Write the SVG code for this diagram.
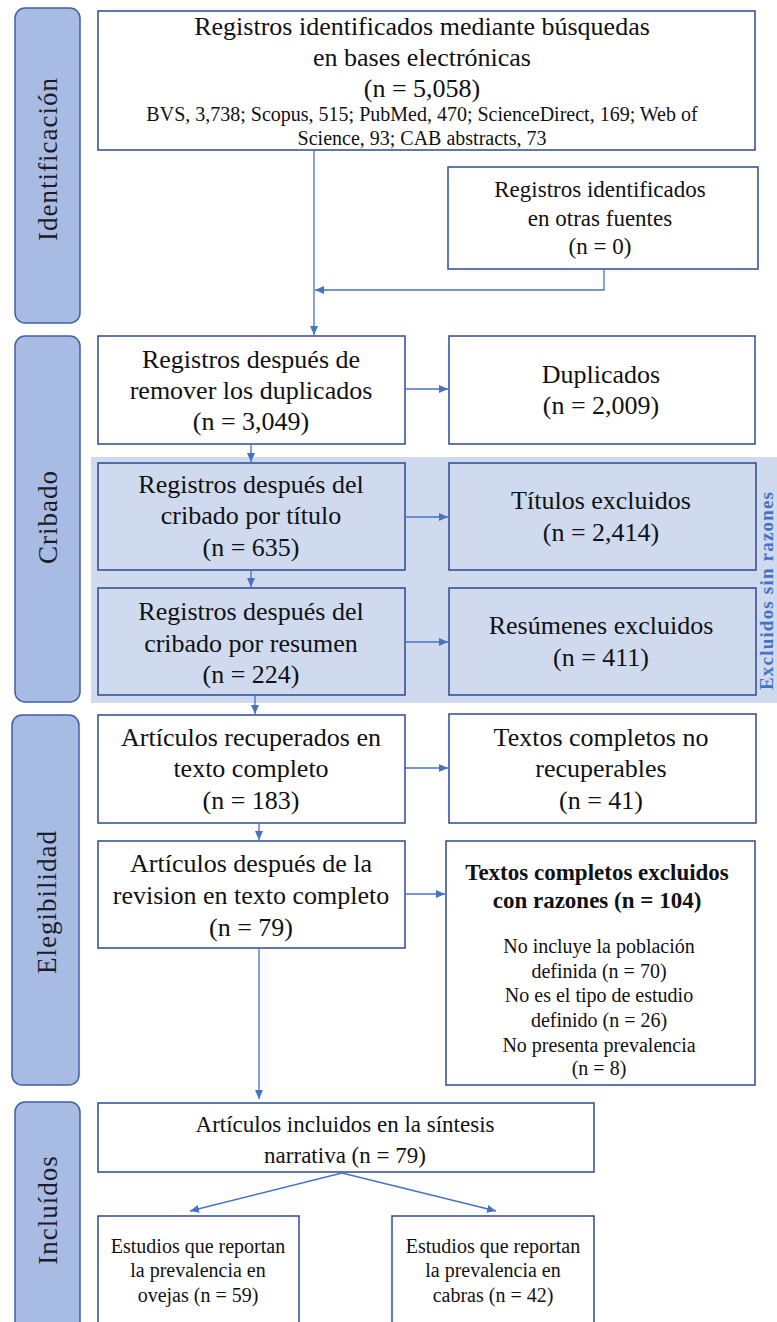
<svg xmlns="http://www.w3.org/2000/svg" width="777" height="1322" viewBox="0 0 777 1322">
<style>
.tab{fill:#a8bbe2;stroke:#3f5fa8;stroke-width:1.5}
.box{fill:#ffffff;stroke:#2e4a8e;stroke-width:1.5}
.sbox{fill:none;stroke:#2e4a8e;stroke-width:1.5}
.t{font-family:"Liberation Serif","Times New Roman",serif;fill:#111;text-anchor:middle}
.l26{font-size:26px}
.l23{font-size:23px}
.l20{font-size:20px}
.tab-t{font-family:"Liberation Serif","Times New Roman",serif;font-size:27px;fill:#1b1b2a;text-anchor:middle;letter-spacing:1px}
.c{fill:none;stroke:#4472c4;stroke-width:1.3}
</style>
<defs>
<marker id="ah" markerWidth="10" markerHeight="10" refX="9" refY="5" orient="auto" markerUnits="userSpaceOnUse">
<path d="M0,1 L9,5 L0,9 Z" fill="#4472c4"/>
</marker>
</defs>
<rect width="777" height="1322" fill="#ffffff"/>
<rect x="91" y="457" width="690" height="246" fill="#cfdaef"/>

<g id="tab-identificacion"><rect class="tab" x="15" y="8" width="65" height="315" rx="10"/><text class="tab-t" transform="translate(57,159) rotate(-90)">Identificación</text></g>
<g id="tab-cribado"><rect class="tab" x="15" y="336" width="65" height="366" rx="10"/><text class="tab-t" transform="translate(57,517) rotate(-90)">Cribado</text></g>
<g id="tab-elegibilidad"><rect class="tab" x="12" y="715" width="67" height="370" rx="10"/><text class="tab-t" transform="translate(56,902) rotate(-90)">Elegibilidad</text></g>
<g id="tab-incluidos"><rect class="tab" x="15" y="1102" width="65" height="240" rx="10"/><text class="tab-t" transform="translate(57,1210) rotate(-90)">Incluídos</text></g>

<g id="n-bases"><rect class="box" x="98" y="11" width="657" height="139"/>
<text class="t l26" x="422" y="35">Registros identificados mediante búsquedas</text>
<text class="t l26" x="422" y="66">en bases electrónicas</text>
<text class="t l26" x="422" y="97">(n = 5,058)</text>
<text class="t l20" x="422" y="121">BVS, 3,738; Scopus, 515; PubMed, 470; ScienceDirect, 169; Web of</text>
<text class="t l20" x="422" y="145">Science, 93; CAB abstracts, 73</text></g>

<g id="n-otras"><rect class="box" x="448" y="167" width="310" height="102"/>
<text class="t l23" x="600" y="197">Registros identificados</text>
<text class="t l23" x="600" y="226">en otras fuentes</text>
<text class="t l23" x="600" y="254">(n = 0)</text></g>

<g id="n-dup"><rect class="box" x="98" y="336" width="307" height="108"/>
<text class="t l26" x="251" y="368">Registros después de</text>
<text class="t l26" x="251" y="399">remover los duplicados</text>
<text class="t l26" x="251" y="430">(n = 3,049)</text></g>
<g id="n-duplicados"><rect class="box" x="449" y="336" width="306" height="108"/>
<text class="t l26" x="601" y="383">Duplicados</text>
<text class="t l26" x="601" y="414">(n = 2,009)</text></g>

<g id="n-titulo"><rect class="sbox" x="98" y="463" width="307" height="107"/>
<text class="t l26" x="251" y="493">Registros después del</text>
<text class="t l26" x="251" y="524">cribado por título</text>
<text class="t l26" x="251" y="556">(n = 635)</text></g>
<g id="n-titexc"><rect class="sbox" x="449" y="463" width="307" height="107"/>
<text class="t l26" x="601" y="509">Títulos excluidos</text>
<text class="t l26" x="601" y="541">(n = 2,414)</text></g>

<g id="n-resumen"><rect class="sbox" x="98" y="588" width="307" height="107"/>
<text class="t l26" x="251" y="620">Registros después del</text>
<text class="t l26" x="251" y="652">cribado por resumen</text>
<text class="t l26" x="251" y="683">(n = 224)</text></g>
<g id="n-resexc"><rect class="sbox" x="449" y="588" width="307" height="107"/>
<text class="t l26" x="601" y="634">Resúmenes excluidos</text>
<text class="t l26" x="601" y="666">(n = 411)</text></g>

<g id="lbl-sinrazones"><text transform="translate(773,591) rotate(-90)" style="font-family:'Liberation Serif','Times New Roman',serif;font-size:19px;font-weight:bold;fill:#4472c4;text-anchor:middle" textLength="198" lengthAdjust="spacing">Excluidos sin razones</text></g>

<g id="n-recuperados"><rect class="box" x="98" y="715" width="307" height="108"/>
<text class="t l26" x="251" y="746">Artículos recuperados en</text>
<text class="t l26" x="251" y="777">texto completo</text>
<text class="t l26" x="251" y="809">(n = 183)</text></g>
<g id="n-norecup"><rect class="box" x="449" y="714" width="307" height="109"/>
<text class="t l26" x="601" y="746">Textos completos no</text>
<text class="t l26" x="601" y="777">recuperables</text>
<text class="t l26" x="601" y="809">(n = 41)</text></g>

<g id="n-revision"><rect class="box" x="98" y="841" width="307" height="107"/>
<text class="t l26" x="251" y="872">Artículos después de la</text>
<text class="t l26" x="251" y="904">revision en texto completo</text>
<text class="t l26" x="251" y="936">(n = 79)</text></g>
<g id="n-excrazones"><rect class="box" x="446" y="841" width="309" height="244"/>
<text class="t l23" x="597" y="880" style="font-weight:bold">Textos completos excluidos</text>
<text class="t l23" x="597" y="908" style="font-weight:bold">con razones (n = 104)</text>
<text class="t l20" x="599" y="953">No incluye la población</text>
<text class="t l20" x="599" y="978">definida (n = 70)</text>
<text class="t l20" x="599" y="1002">No es el tipo de estudio</text>
<text class="t l20" x="599" y="1027">definido (n = 26)</text>
<text class="t l20" x="599" y="1052">No presenta prevalencia</text>
<text class="t l20" x="599" y="1075">(n = 8)</text></g>

<g id="n-incluidos"><rect class="box" x="98" y="1103" width="496" height="69"/>
<text class="t l23" x="345" y="1132">Artículos incluidos en la síntesis</text>
<text class="t l23" x="345" y="1163">narrativa (n = 79)</text></g>

<g id="n-ovejas"><rect class="box" x="98" y="1216" width="201" height="120"/>
<text class="t l20" x="198" y="1253">Estudios que reportan</text>
<text class="t l20" x="198" y="1277">la prevalencia en</text>
<text class="t l20" x="198" y="1302">ovejas (n = 59)</text></g>
<g id="n-cabras"><rect class="box" x="392" y="1216" width="202" height="120"/>
<text class="t l20" x="493" y="1253">Estudios que reportan</text>
<text class="t l20" x="493" y="1277">la prevalencia en</text>
<text class="t l20" x="493" y="1302">cabras (n = 42)</text></g>

<g id="connectors">
<path class="c" d="M314,150 V335" marker-end="url(#ah)"/>
<path class="c" d="M604,269 V290 H315" marker-end="url(#ah)"/>
<path class="c" d="M405,389 H448" marker-end="url(#ah)"/>
<path class="c" d="M251,444 V462" marker-end="url(#ah)"/>
<path class="c" d="M405,517 H448" marker-end="url(#ah)"/>
<path class="c" d="M251,570 V587" marker-end="url(#ah)"/>
<path class="c" d="M405,642 H448" marker-end="url(#ah)"/>
<path class="c" d="M255,695 V714" marker-end="url(#ah)"/>
<path class="c" d="M405,768 H448" marker-end="url(#ah)"/>
<path class="c" d="M259,823 V840" marker-end="url(#ah)"/>
<path class="c" d="M405,894 H445" marker-end="url(#ah)"/>
<path class="c" d="M259,948 V1099" marker-end="url(#ah)"/>
<path class="c" d="M342,1173 L190,1211" marker-end="url(#ah)"/>
<path class="c" d="M342,1173 L496,1211" marker-end="url(#ah)"/>
</g>
</svg>
